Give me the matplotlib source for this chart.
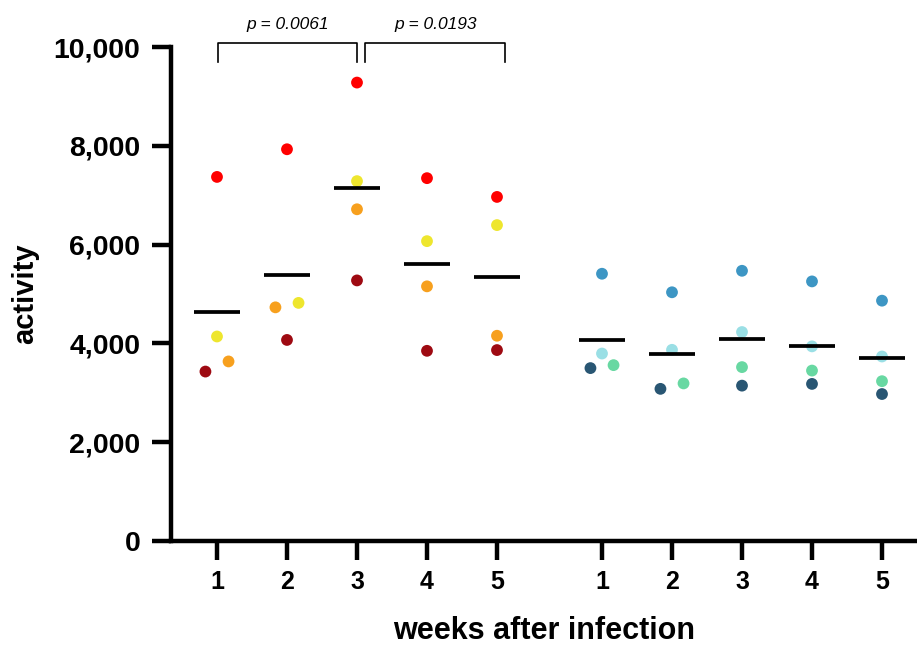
import matplotlib.pyplot as plt
import numpy as np

plt.rcParams['font.family'] = ['Liberation Sans', 'DejaVu Sans']

# weeks after infection, two groups of five weeks
weeks = [1, 2, 3, 4, 5]

# group 1 (warm colours)
g1_red = [7370, 7930, 9280, 7345, 6965]
g1_yellow = [4140, 4820, 7285, 6070, 6395]
g1_orange = [3635, 4730, 6715, 5155, 4155]
g1_darkred = [3430, 4070, 5275, 3850, 3865]

# group 2 (cool colours)
g2_blue = [5410, 5035, 5470, 5255, 4865]
g2_cyan = [3795, 3870, 4230, 3940, 3735]
g2_green = [3560, 3190, 3520, 3450, 3235]
g2_navy = [3500, 3080, 3145, 3180, 2975]

p_labels = ['p = 0.0061', 'p = 0.0193']

group1 = [(g1_red, '#ff0000'), (g1_yellow, '#eee62e'),
          (g1_orange, '#f7a01e'), (g1_darkred, '#9e0a12')]
group2 = [(g2_blue, '#3d96c4'), (g2_cyan, '#9adfe5'),
          (g2_green, '#68d8a2'), (g2_navy, '#295673')]

offset2 = 5.5  # group 2 sits 1.5 units after group 1
jit = 0.165
close = 220   # points closer than this get pushed apart


def jitter(vals):
    # tiny swarm: two overlapping points are split left/right
    dx = np.zeros(len(vals))
    order = np.argsort(vals)
    for a, b in zip(order[:-1], order[1:]):
        if vals[b] - vals[a] < close:
            dx[a] = -jit
            dx[b] = jit
    return dx


fig = plt.figure(figsize=(9.17, 6.46), dpi=100)
ax = fig.add_axes([171 / 917, 105 / 646, 746 / 917, 494 / 646])

for group, shift in [(group1, 0), (group2, offset2)]:
    for i, w in enumerate(weeks):
        vals = np.array([s[i] for s, c in group])
        cols = [c for s, c in group]
        dx = jitter(vals)
        ax.scatter(w + shift + dx, vals, s=72, c=cols, edgecolors='none', zorder=3)
        m = vals.mean()
        ax.plot([w + shift - 0.33, w + shift + 0.33], [m, m], color='black',
                lw=2.7, solid_capstyle='butt', zorder=4)

ax.set_xlim(0.343, 11.0)
ax.set_ylim(0, 10000)

xt = weeks + [w + offset2 for w in weeks]
ax.set_xticks(xt)
ax.set_xticklabels([str(w) for w in weeks] * 2, fontsize=18, fontweight='bold')
ax.set_yticks(range(0, 10001, 2000))
ax.set_yticklabels([f'{v:,}' for v in range(0, 10001, 2000)], fontsize=20.5, fontweight='bold')

for side in ['top', 'right']:
    ax.spines[side].set_visible(False)
for side in ['left', 'bottom']:
    ax.spines[side].set_linewidth(3.2)
ax.tick_params(axis='both', length=14, width=3.2)
ax.tick_params(axis='y', pad=8)
ax.tick_params(axis='x', pad=7)

ax.set_xlabel('weeks after infection', fontsize=22, fontweight='bold')
ax.xaxis.set_label_coords(0.5, -0.198)
ax.xaxis.label.set_va('baseline')
ax.set_ylabel('activity', fontsize=21, fontweight='bold')
ax.yaxis.set_label_coords(-0.196, 0.5)
ax.yaxis.label.set_va('center')

# significance brackets
brackets = [(1.01, 3.0), (3.12, 5.12)]
for (x0, x1), lab in zip(brackets, p_labels):
    ax.plot([x0, x0, x1, x1], [9690, 10080, 10080, 9690], color='black',
            lw=1.2, clip_on=False)
    ax.text((x0 + x1) / 2, 10450, lab, ha='center', va='center',
            fontsize=12.5, style='italic')

fig.savefig('out.png', dpi=100)
